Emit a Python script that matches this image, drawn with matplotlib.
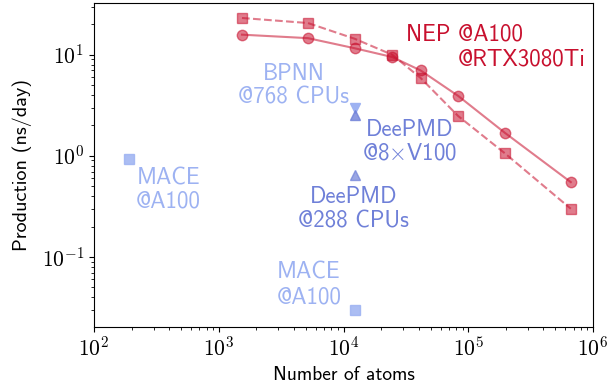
import math
import matplotlib
matplotlib.use("Agg")
import matplotlib.pyplot as plt
from matplotlib.ticker import FuncFormatter

plt.rcParams['font.family'] = ['cmss10', 'DejaVu Sans']
plt.rcParams['mathtext.fontset'] = 'cm'
plt.rcParams['mathtext.default'] = 'sf'

# NEP benchmark sizes
nep_atoms = [1536, 5184, 12288, 24576, 41472, 82944, 196608, 663552]
nep_a100 = [23.1, 20.6, 14.4, 10.0, 5.9, 2.48, 1.06, 0.30]
nep_rtx = [15.8, 14.6, 11.6, 9.5, 7.0, 3.92, 1.69, 0.55]

# other models
bpnn_atoms, bpnn_speed = [12288], [2.96]
dp_gpu_atoms, dp_gpu_speed = [12288], [2.55]
dp_cpu_atoms, dp_cpu_speed = [12288], [0.645]
mace_atoms = [192, 12288]
mace_speed = [0.93, 0.030]

c_nep = '#c8102e'
c_dp = '#6f80d8'
c_light = '#9db2f2'

fig = plt.figure(figsize=(6.1, 3.9), dpi=100)
ax = fig.add_axes([94 / 610, 1 - 327 / 390, 499 / 610, 324 / 390])

ax.plot(nep_atoms, nep_a100, '--s', color=c_nep, alpha=0.55, lw=1.5, ms=7.5)
ax.plot(nep_atoms, nep_rtx, '-o', color=c_nep, alpha=0.55, lw=1.5, ms=7.5)
ax.plot(bpnn_atoms, bpnn_speed, 'v', color=c_light, ms=7)
ax.plot(dp_gpu_atoms, dp_gpu_speed, '^', color=c_dp, alpha=0.8, ms=7)
ax.plot(dp_cpu_atoms, dp_cpu_speed, '^', color=c_dp, alpha=0.7, ms=7)
ax.plot(mace_atoms, mace_speed, 's', color=c_light, alpha=0.85, ms=7)

ax.set_xscale('log')
ax.set_yscale('log')
ax.set_xlim(1e2, 1e6)
ax.set_ylim(0.0203, 32.5)

pow_fmt = FuncFormatter(lambda v, p: r'$\mathsf{10}^{\mathsf{%d}}$' % round(math.log10(v)))
ax.xaxis.set_major_formatter(pow_fmt)
ax.yaxis.set_major_formatter(pow_fmt)

fs = 16.5
ax.text(3.15e4, 15.8, 'NEP @A100', color=c_nep, fontsize=fs, ha='left', va='center')
ax.text(8.2e4, 8.9, '@RTX3080Ti', color=c_nep, fontsize=fs, ha='left', va='center')
ax.text(3.97e3, 6.48, 'BPNN', color=c_light, fontsize=fs, ha='center', va='center')
ax.text(3.97e3, 3.74, '@768 CPUs', color=c_light, fontsize=fs, ha='center', va='center')
ax.text(3.39e4, 1.80, 'DeePMD', color=c_dp, fontsize=fs, ha='center', va='center')
ax.text(3.39e4, 1.067, '@8$\\times$V100', color=c_dp, fontsize=fs, ha='center', va='center')
ax.text(1.21e4, 0.39, 'DeePMD', color=c_dp, fontsize=fs, ha='center', va='center')
ax.text(1.21e4, 0.222, '@288 CPUs', color=c_dp, fontsize=fs, ha='center', va='center')
ax.text(396, 0.60, 'MACE', color=c_light, fontsize=fs, ha='center', va='center')
ax.text(396, 0.35, '@A100', color=c_light, fontsize=fs, ha='center', va='center')
ax.text(5.29e3, 0.0709, 'MACE', color=c_light, fontsize=fs, ha='center', va='center')
ax.text(5.29e3, 0.040, '@A100', color=c_light, fontsize=fs, ha='center', va='center')

ax.tick_params(labelsize=15.5)
ax.set_xlabel('Number of atoms', fontsize=14, labelpad=4)
ax.set_ylabel('Production (ns/day)', fontsize=14.5)
ax.yaxis.set_label_coords(-0.124, 0.5)

fig.savefig('out.png', dpi=100)
